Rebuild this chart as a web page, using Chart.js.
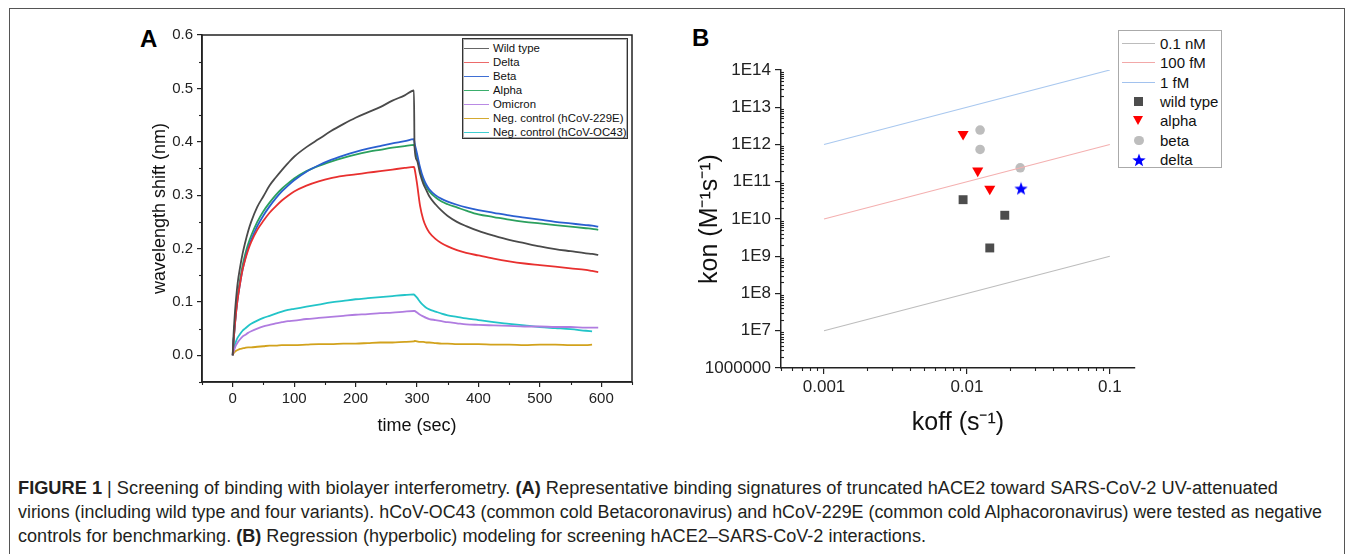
<!DOCTYPE html>
<html>
<head>
<meta charset="utf-8">
<title>Figure 1</title>
<script src="https://cdn.jsdelivr.net/npm/chart.js@4.4.1/dist/chart.umd.min.js"></script>
<style>
  body { margin: 0; width: 1355px; height: 554px; background: #fff; position: relative; overflow: hidden;
         font-family: "Liberation Sans", Arial, sans-serif; color: #111; }
  .frame { position: absolute; left: 9px; top: 8px; width: 1336px; height: 600px; border: 1.5px solid #555; box-sizing: border-box; }
  .wrap { position: absolute; }
  #wrapA { left: 130px; top: 20px; width: 520px; height: 430px; }
  #wrapB { left: 680px; top: 20px; width: 480px; height: 430px; }
  .tag { position: absolute; font-weight: bold; font-size: 24px; line-height: 24px; color: #000; }
  .legend { position: absolute; background: #fff; box-sizing: border-box; }
  #legendA { left: 462px; top: 38px; width: 166px; height: 101px; border: 1px solid #333; box-shadow: inset 0 0 0 1px #b0b0b0; padding-top: 2px; }
  #legendA .row { height: 14px; display: flex; align-items: center; font-size: 11.4px; color: #111; white-space: nowrap; }
  #legendA .sw { display: block; flex: none; width: 25px; height: 1px; margin-left: 1px; margin-right: 4px; }
  #legendB { left: 1118px; top: 30px; width: 104px; height: 138px; border: 1px solid #aaa; padding-top: 3px; }
  #legendB .row { height: 19.3px; display: flex; align-items: center; font-size: 15px; color: #111; white-space: nowrap; }
  #legendB .mk { display: block; flex: none; width: 33px; margin-left: 3px; margin-right: 5px; height: 19px; position: relative; }
  .caption { position: absolute; left: 18px; font-family: "Liberation Sans", Arial, sans-serif;
             font-size: 18px; color: #231f20; white-space: nowrap; transform-origin: 0 50%; line-height: 20px; }
  .caption b { font-weight: bold; }
</style>
</head>
<body>
<div class="frame"></div>
<div class="tag" style="left:140px; top:27px;">A</div>
<div class="tag" style="left:692px; top:26px;">B</div>
<div class="wrap" id="wrapA"><canvas id="chartA"></canvas></div>
<div class="wrap" id="wrapB"><canvas id="chartB"></canvas></div>
<div class="legend" id="legendA"></div>
<div class="legend" id="legendB"></div>
<div class="caption" id="cap1" style="top:478px;"><b>FIGURE 1</b> | Screening of binding with biolayer interferometry. <b>(A)</b> Representative binding signatures of truncated hACE2 toward SARS-CoV-2 UV-attenuated</div>
<div class="caption" id="cap2" style="top:502px;">virions (including wild type and four variants). hCoV-OC43 (common cold Betacoronavirus) and hCoV-229E (common cold Alphacoronavirus) were tested as negative</div>
<div class="caption" id="cap3" style="top:526px;">controls for benchmarking. <b>(B)</b> Regression (hyperbolic) modeling for screening hACE2–SARS-CoV-2 interactions.</div>
<script>
// ---- Panel A: binding curves (wavelength shift, nm) ----
const timeSec = [0, 1, 3, 5, 8, 12, 16, 20, 25, 30, 40, 50, 60, 70, 80, 90, 100, 120, 140, 160, 180, 200, 220, 240, 260, 280, 295,
                 296, 300, 305, 310, 315, 320, 330, 340, 350, 365, 380, 400, 425, 450, 475, 500, 525, 550, 575, 585, 595];

const wildType = [0, 0.03, 0.07, 0.10, 0.135, 0.165, 0.19, 0.21, 0.232, 0.25, 0.278, 0.298, 0.318, 0.333, 0.347, 0.36, 0.372, 0.39, 0.405, 0.42, 0.433, 0.445, 0.455, 0.465, 0.477, 0.487, 0.496,
                  0.39, 0.365, 0.34, 0.322, 0.31, 0.298, 0.283, 0.271, 0.261, 0.25, 0.242, 0.233, 0.224, 0.216, 0.21, 0.204, 0.199, 0.195, 0.191, 0.19, 0.188];
const delta = [0, 0.02, 0.05, 0.075, 0.105, 0.135, 0.16, 0.178, 0.197, 0.212, 0.235, 0.252, 0.267, 0.279, 0.29, 0.299, 0.307, 0.318, 0.326, 0.332, 0.336, 0.339, 0.342, 0.345, 0.348, 0.351, 0.353,
               0.35, 0.322, 0.28, 0.255, 0.24, 0.23, 0.218, 0.21, 0.204, 0.197, 0.192, 0.187, 0.181, 0.176, 0.172, 0.169, 0.166, 0.163, 0.16, 0.158, 0.156];
const beta = [0, 0.02, 0.05, 0.075, 0.105, 0.135, 0.16, 0.18, 0.2, 0.216, 0.242, 0.262, 0.279, 0.294, 0.307, 0.318, 0.328, 0.344, 0.356, 0.366, 0.374, 0.381, 0.387, 0.392, 0.397, 0.401, 0.405,
              0.398, 0.378, 0.352, 0.333, 0.32, 0.311, 0.3, 0.293, 0.288, 0.282, 0.277, 0.272, 0.267, 0.262, 0.258, 0.254, 0.25, 0.247, 0.244, 0.243, 0.241];
const alpha = [0, 0.02, 0.05, 0.078, 0.11, 0.142, 0.168, 0.188, 0.208, 0.224, 0.25, 0.27, 0.286, 0.3, 0.312, 0.322, 0.331, 0.345, 0.355, 0.363, 0.37, 0.376, 0.381, 0.385, 0.389, 0.392, 0.394,
               0.392, 0.372, 0.347, 0.328, 0.316, 0.307, 0.296, 0.288, 0.283, 0.277, 0.271, 0.264, 0.259, 0.254, 0.25, 0.247, 0.244, 0.241, 0.238, 0.237, 0.235];
const omicron = [0, 0.005, 0.012, 0.018, 0.024, 0.03, 0.035, 0.038, 0.042, 0.045, 0.05, 0.054, 0.057, 0.06, 0.062, 0.064, 0.065, 0.068, 0.07, 0.072, 0.074, 0.076, 0.077, 0.079, 0.08, 0.082, 0.083,
                 0.083, 0.08, 0.076, 0.073, 0.07, 0.068, 0.066, 0.064, 0.062, 0.06, 0.058, 0.057, 0.056, 0.055, 0.054, 0.054, 0.053, 0.053, 0.052, 0.052, 0.052];
const neg229E = [0, 0.003, 0.006, 0.008, 0.01, 0.012, 0.013, 0.014, 0.015, 0.015, 0.016, 0.017, 0.018, 0.018, 0.019, 0.019, 0.019, 0.02, 0.021, 0.021, 0.022, 0.022, 0.023, 0.024, 0.024, 0.025, 0.026,
                 0.027, 0.026, 0.025, 0.025, 0.024, 0.024, 0.023, 0.022, 0.022, 0.021, 0.021, 0.021, 0.02, 0.02, 0.019, 0.02, 0.02, 0.019, 0.019, 0.02, null];
const negOC43 = [0, 0.008, 0.018, 0.025, 0.033, 0.04, 0.046, 0.05, 0.055, 0.059, 0.065, 0.07, 0.074, 0.078, 0.082, 0.085, 0.087, 0.091, 0.095, 0.099, 0.102, 0.105, 0.107, 0.109, 0.111, 0.113, 0.114,
                 0.113, 0.108, 0.1, 0.094, 0.089, 0.086, 0.082, 0.078, 0.075, 0.072, 0.069, 0.066, 0.062, 0.059, 0.056, 0.053, 0.051, 0.049, 0.046, 0.045, null];

const seriesNames = ['Wild type', 'Delta', 'Beta', 'Alpha', 'Omicron', 'Neg. control (hCoV-229E)', 'Neg. control (hCoV-OC43)'];
const seriesValues = [wildType, delta, beta, alpha, omicron, neg229E, negOC43];
const seriesColors = ['#4a4a4a', '#e8302f', '#2a5fd0', '#2ba05e', '#b07ce0', '#d2a21c', '#22c4c8'];
const legendColorsA = ['#666666', '#ec6a6a', '#3f6fd4', '#3aae6c', '#b98ae4', '#d4aa30', '#3fcfd2'];

const timeTicks = [0, 100, 200, 300, 400, 500, 600];
const shiftTicks = [0, 0.1, 0.2, 0.3, 0.4, 0.5, 0.6];
const timeMinor = [-50, 50, 150, 250, 350, 450, 550, 650];
const shiftMinor = [-0.05, 0.05, 0.15, 0.25, 0.35, 0.45, 0.55];

// ---- Panel B: kon vs koff ----
const koffLine = [0.001, 0.1];
const konLine01nM = [1e7, 1e9];
const konLine100fM = [1e10, 1e12];
const konLine1fM = [1e12, 1e14];
const koffWild = [0.0094, 0.0184, 0.01445];
const konWild = [3.3e10, 1.26e10, 1.67e9];
const koffAlpha = [0.0094, 0.0119, 0.01445];
const konAlpha = [1.9e12, 1.97e11, 6.45e10];
const koffBeta = [0.01236, 0.01236, 0.0236];
const konBeta = [2.44e12, 7.36e11, 2.37e11];
const koffDelta = [0.0239];
const konDelta = [6.6e10];

const koffTicks = [0.001, 0.01, 0.1];
const koffTickLabels = ['0.001', '0.01', '0.1'];
const konTicks = [1e6, 1e7, 1e8, 1e9, 1e10, 1e11, 1e12, 1e13, 1e14];
const konTickLabels = ['1000000', '1E7', '1E8', '1E9', '1E10', '1E11', '1E12', '1E13', '1E14'];

const FONT = '"Liberation Sans", Arial, sans-serif';

function decadeMinors(lo, hi) {
  const out = [];
  for (let e = lo; e < hi; e++) for (let m = 2; m <= 9; m++) out.push(m * Math.pow(10, e));
  return out;
}

// draws minor ticks (and optional frame) through the chart's own scales
const axisExtras = {
  id: 'axisExtras',
  afterDraw(chart, args, opts) {
    const {ctx, chartArea} = chart;
    const xs = chart.scales.x, ys = chart.scales.y;
    ctx.save();
    ctx.strokeStyle = '#222';
    ctx.lineWidth = 1.1;
    (opts.xMinor || []).forEach(v => {
      const px = Math.round(xs.getPixelForValue(v)) + 0.5;
      if (px < chartArea.left - 1 || px > chartArea.right + 1) return;
      ctx.beginPath(); ctx.moveTo(px, chartArea.bottom); ctx.lineTo(px, chartArea.bottom + opts.xMinorLen); ctx.stroke();
    });
    (opts.yMinor || []).forEach(v => {
      const py = Math.round(ys.getPixelForValue(v)) + 0.5;
      if (py < chartArea.top - 1 || py > chartArea.bottom + 1) return;
      ctx.beginPath(); ctx.moveTo(chartArea.left, py); ctx.lineTo(chartArea.left + opts.yMinorLen, py); ctx.stroke();
    });
    if (opts.frame) {
      ctx.lineWidth = 1.5;
      ctx.strokeStyle = '#222';
      ctx.strokeRect(chartArea.left, chartArea.top, chartArea.right - chartArea.left, chartArea.bottom - chartArea.top);
    }
    ctx.restore();
  }
};

function tickAxis(extra) {
  return Object.assign({
    grid: { display: true, drawOnChartArea: false, drawTicks: true, tickLength: 5, color: '#222', lineWidth: 1.2 },
    border: { display: true, color: '#222', width: 1.5 },
  }, extra);
}

// ---- chart A ----
new Chart(document.getElementById('chartA'), {
  type: 'line',
  data: {
    datasets: seriesNames.map((name, i) => ({
      label: name,
      data: timeSec.map((t, k) => ({ x: t, y: seriesValues[i][k] })),
      borderColor: seriesColors[i],
      borderWidth: 1.8,
      pointRadius: 0,
      cubicInterpolationMode: 'monotone',
      spanGaps: false
    }))
  },
  options: {
    responsive: true,
    maintainAspectRatio: false,
    animation: false,
    layout: { padding: { top: 15, right: 18, left: 0, bottom: 0 } },
    plugins: {
      legend: { display: false },
      tooltip: { enabled: false },
      axisExtras: { xMinor: timeMinor, yMinor: shiftMinor, xMinorLen: 3, yMinorLen: -3, frame: true }
    },
    scales: {
      x: tickAxis({
        type: 'linear', min: -50, max: 650,
        afterBuildTicks: s => { s.ticks = timeTicks.map(v => ({ value: v })); },
        afterFit: s => { s.height = 68; },
        ticks: { autoSkip: false, maxRotation: 0, padding: 3, color: '#222', font: { family: FONT, size: 15 }, callback: v => String(v) },
        title: { display: true, text: 'time (sec)', color: '#111', font: { family: FONT, size: 18 }, padding: { top: 0, bottom: 13 } }
      }),
      y: tickAxis({
        type: 'linear', min: -0.05, max: 0.6,
        afterBuildTicks: s => { s.ticks = shiftTicks.map(v => ({ value: v })); },
        afterFit: s => { s.width = 72; },
        ticks: { autoSkip: false, padding: 4, color: '#222', font: { family: FONT, size: 15 }, callback: v => v.toFixed(1) },
        title: { display: true, text: 'wavelength shift (nm)', color: '#111', font: { family: FONT, size: 18 }, padding: { top: 19, bottom: 0 } }
      })
    }
  },
  plugins: [axisExtras]
});

// ---- chart B ----
function starImage(color, size) {
  const c = document.createElement('canvas');
  c.width = size; c.height = size;
  const g = c.getContext('2d');
  const cx = size / 2, cy = size / 2 + 0.6, ro = size / 2, ri = ro * 0.42;
  g.beginPath();
  for (let i = 0; i < 10; i++) {
    const r = i % 2 ? ri : ro;
    const a = -Math.PI / 2 + i * Math.PI / 5;
    g.lineTo(cx + r * Math.cos(a), cy + r * Math.sin(a));
  }
  g.closePath();
  g.fillStyle = color;
  g.fill();
  return c;
}

const toPts = (xs, ys) => xs.map((v, i) => ({ x: v, y: ys[i] }));

new Chart(document.getElementById('chartB'), {
  type: 'scatter',
  data: {
    datasets: [
      { label: '0.1 nM', data: toPts(koffLine, konLine01nM), showLine: true, borderColor: '#bdbdbd', borderWidth: 1.1, pointRadius: 0 },
      { label: '100 fM', data: toPts(koffLine, konLine100fM), showLine: true, borderColor: '#f4b0b0', borderWidth: 1.1, pointRadius: 0 },
      { label: '1 fM', data: toPts(koffLine, konLine1fM), showLine: true, borderColor: '#a9c8ef', borderWidth: 1.1, pointRadius: 0 },
      { label: 'wild type', data: toPts(koffWild, konWild), pointStyle: 'rect', pointRadius: 6.3, backgroundColor: '#4d4d4d', borderWidth: 0 },
      { label: 'alpha', data: toPts(koffAlpha, konAlpha), pointStyle: 'triangle', rotation: 180, pointRadius: 6.4, backgroundColor: '#ff0000', borderWidth: 0 },
      { label: 'beta', data: toPts(koffBeta, konBeta), pointStyle: 'circle', pointRadius: 4.8, backgroundColor: '#bdbdbd', borderWidth: 0 },
      { label: 'delta', data: toPts(koffDelta, konDelta), pointStyle: starImage('#0000ff', 14), pointRadius: 7 }
    ]
  },
  options: {
    responsive: true,
    maintainAspectRatio: false,
    animation: false,
    layout: { padding: { top: 50, right: 25, left: 0, bottom: 0 } },
    plugins: {
      legend: { display: false },
      tooltip: { enabled: false },
      axisExtras: { xMinor: decadeMinors(-4, 0), yMinor: decadeMinors(6, 14), xMinorLen: 3, yMinorLen: 3, frame: false }
    },
    scales: {
      x: tickAxis({
        type: 'logarithmic', min: 0.0005, max: 0.15,
        afterBuildTicks: s => { s.ticks = koffTicks.map(v => ({ value: v })); },
        afterFit: s => { s.height = 82; },
        grid: { display: true, drawOnChartArea: false, drawTicks: true, tickLength: 6, color: '#222', lineWidth: 1.2 },
        ticks: { autoSkip: false, maxRotation: 0, padding: 3, color: '#222', font: { family: FONT, size: 17 }, callback: (v, i) => koffTickLabels[i] },
        title: { display: true, text: 'koff (s⁻¹)', color: '#111', font: { family: FONT, size: 25 }, padding: { top: 0, bottom: 12 } }
      }),
      y: tickAxis({
        type: 'logarithmic', min: 1e6, max: 1e14,
        afterBuildTicks: s => { s.ticks = konTicks.map(v => ({ value: v })); },
        afterFit: s => { s.width = 101; },
        grid: { display: true, drawOnChartArea: false, drawTicks: true, tickLength: 6, color: '#222', lineWidth: 1.2 },
        ticks: { autoSkip: false, padding: 4, color: '#222', font: { family: FONT, size: 17 }, callback: (v, i) => konTickLabels[i] },
        title: { display: true, text: 'kon (M⁻¹s⁻¹)', color: '#111', font: { family: FONT, size: 25 }, padding: { top: 15, bottom: 0 } }
      })
    }
  },
  plugins: [axisExtras]
});

// ---- HTML legends ----
const legA = document.getElementById('legendA');
seriesNames.forEach((name, i) => {
  const row = document.createElement('div');
  row.className = 'row';
  row.innerHTML = `<span class="sw" style="background:${legendColorsA[i]}"></span><span>${name}</span>`;
  legA.appendChild(row);
});

const legendBItems = [
  { name: '0.1 nM', mk: '<div style="position:absolute;left:0;right:0;top:9px;height:1px;background:#bcbcbc"></div>' },
  { name: '100 fM', mk: '<div style="position:absolute;left:0;right:0;top:9px;height:1px;background:#f2a8a8"></div>' },
  { name: '1 fM', mk: '<div style="position:absolute;left:0;right:0;top:9px;height:1px;background:#a2c2ee"></div>' },
  { name: 'wild type', mk: '<div style="position:absolute;left:12px;top:5px;width:9px;height:9px;background:#4d4d4d"></div>' },
  { name: 'alpha', mk: '<div style="position:absolute;left:11px;top:5px;width:0;height:0;border-left:5.5px solid transparent;border-right:5.5px solid transparent;border-top:9.5px solid #ff0000"></div>' },
  { name: 'beta', mk: '<div style="position:absolute;left:12px;top:5px;width:9.5px;height:9.5px;border-radius:50%;background:#bdbdbd"></div>' },
  { name: 'delta', mk: '<canvas id="legStar" width="14" height="14" style="position:absolute;left:10px;top:3px"></canvas>' }
];
const legB = document.getElementById('legendB');
legendBItems.forEach(item => {
  const row = document.createElement('div');
  row.className = 'row';
  row.innerHTML = `<span class="mk">${item.mk}</span><span>${item.name}</span>`;
  legB.appendChild(row);
});
document.getElementById('legStar').getContext('2d').drawImage(starImage('#0000ff', 14), 0, 0);

// ---- caption: fit each line to the width it has in the figure ----
const captionWidths = [1260, 1304, 908];
['cap1', 'cap2', 'cap3'].forEach((id, i) => {
  const el = document.getElementById(id);
  const w = el.getBoundingClientRect().width;
  el.style.transform = `scaleX(${captionWidths[i] / w})`;
});
</script>
</body>
</html>
